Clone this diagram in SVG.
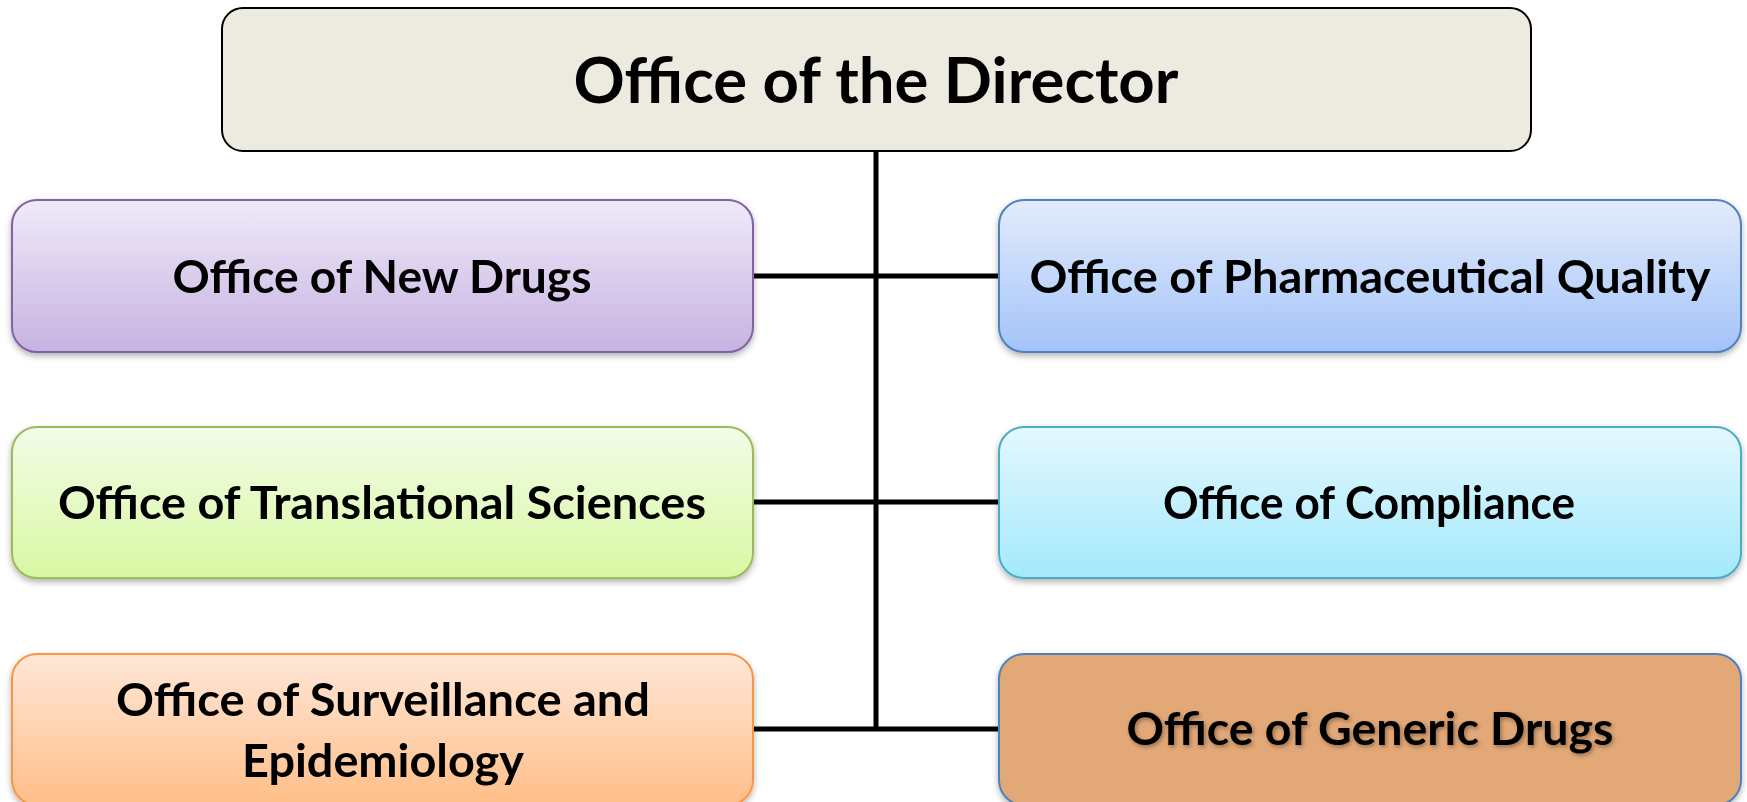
<svg xmlns="http://www.w3.org/2000/svg" width="1747" height="802" viewBox="0 0 1747 802">
<style>
  .lbl{font-family:Lato,"Open Sans","Liberation Sans",sans-serif;font-weight:bold;fill:#000;text-anchor:middle;font-size:45px}
  .top{font-size:63px}
  .box{stroke-width:2}
  .conn{stroke:#000;stroke-width:5;fill:none}
</style>
<defs>
  <filter id="sh" x="-5%" y="-10%" width="110%" height="130%">
    <feDropShadow dx="0" dy="3" stdDeviation="3" flood-color="#000" flood-opacity="0.3"/>
  </filter>
  <filter id="tsh" x="-5%" y="-20%" width="110%" height="140%">
    <feDropShadow dx="1.5" dy="2" stdDeviation="2" flood-color="#000" flood-opacity="0.35"/>
  </filter>
  <linearGradient id="gPurple" x1="0" y1="0" x2="0" y2="1"><stop offset="0" stop-color="#EFEAF8"/><stop offset="1" stop-color="#C7B2E2"/></linearGradient>
  <linearGradient id="gBlue" x1="0" y1="0" x2="0" y2="1"><stop offset="0" stop-color="#E3ECFD"/><stop offset="1" stop-color="#A3C3F8"/></linearGradient>
  <linearGradient id="gGreen" x1="0" y1="0" x2="0" y2="1"><stop offset="0" stop-color="#F3FCE8"/><stop offset="1" stop-color="#D8F8A2"/></linearGradient>
  <linearGradient id="gCyan" x1="0" y1="0" x2="0" y2="1"><stop offset="0" stop-color="#E4F8FE"/><stop offset="1" stop-color="#A3E9FC"/></linearGradient>
  <linearGradient id="gOrange" x1="0" y1="0" x2="0" y2="1"><stop offset="0" stop-color="#FFE7D8"/><stop offset="1" stop-color="#FFBE88"/></linearGradient>
</defs>
<rect width="1747" height="802" fill="#fff"/>

<g id="connectors">
  <line class="conn" x1="876" y1="151" x2="876" y2="731"/>
  <line class="conn" x1="753" y1="276" x2="999" y2="276"/>
  <line class="conn" x1="753" y1="502" x2="999" y2="502"/>
  <line class="conn" x1="753" y1="729" x2="999" y2="729"/>
</g>

<g id="director">
  <rect class="box" x="222" y="8" width="1309" height="143" rx="21" fill="#EDEBE0" stroke="#000"/>
  <text class="lbl top" x="876" y="103" textLength="605" lengthAdjust="spacingAndGlyphs">Office of the Director</text>
</g>

<g id="new-drugs" filter="url(#sh)">
  <rect class="box" x="12" y="200" width="741" height="152" rx="25" fill="url(#gPurple)" stroke="#8064A2"/>
  <text class="lbl" x="382" y="293" textLength="419" lengthAdjust="spacingAndGlyphs">Office of New Drugs</text>
</g>

<g id="pharma-quality" filter="url(#sh)">
  <rect class="box" x="999" y="200" width="742" height="152" rx="25" fill="url(#gBlue)" stroke="#4F81BD"/>
  <text class="lbl" x="1370" y="293" textLength="681" lengthAdjust="spacingAndGlyphs">Office of Pharmaceutical Quality</text>
</g>

<g id="translational" filter="url(#sh)">
  <rect class="box" x="12" y="427" width="741" height="151" rx="25" fill="url(#gGreen)" stroke="#9BBB59"/>
  <text class="lbl" x="382" y="519" textLength="648" lengthAdjust="spacingAndGlyphs">Office of Translational Sciences</text>
</g>

<g id="compliance" filter="url(#sh)">
  <rect class="box" x="999" y="427" width="742" height="151" rx="25" fill="url(#gCyan)" stroke="#4BACC6"/>
  <text class="lbl" x="1369" y="519" textLength="412" lengthAdjust="spacingAndGlyphs">Office of Compliance</text>
</g>

<g id="surveillance" filter="url(#sh)">
  <rect class="box" x="12" y="654" width="741" height="151" rx="25" fill="url(#gOrange)" stroke="#F79646"/>
  <text class="lbl" x="383" y="716" textLength="534" lengthAdjust="spacingAndGlyphs">Office of Surveillance and</text>
  <text class="lbl" x="383" y="777" textLength="282" lengthAdjust="spacingAndGlyphs">Epidemiology</text>
</g>

<g id="generic-drugs" filter="url(#sh)">
  <rect class="box" x="999" y="654" width="742" height="151" rx="25" fill="#E3A877" stroke="#4F81BD"/>
  <text class="lbl" x="1370" y="745" textLength="487" lengthAdjust="spacingAndGlyphs" filter="url(#tsh)">Office of Generic Drugs</text>
</g>
</svg>
